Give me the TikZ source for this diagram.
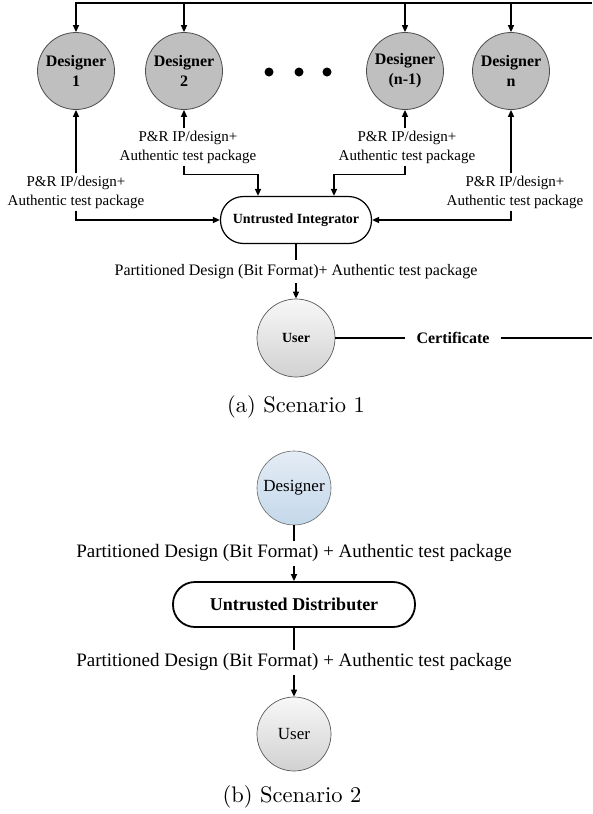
\documentclass[tikz,border=0pt]{standalone}
\usepackage{fontspec}
\newfontfamily\tm{Liberation Serif}
\newfontfamily\lmten{lmroman10-regular}[Extension=.otf]
\usetikzlibrary{arrows.meta}
\definecolor{bluetop}{RGB}{228,236,245}
\definecolor{bluebot}{RGB}{196,216,234}
\begin{document}
\begin{tikzpicture}[x=1pt,y=-1pt,
  conn/.style={line width=1.5pt},
  arr/.style={conn,-{Triangle[length=7pt,width=6pt]}},
  dcirc/.style={circle,draw=black!70,line width=0.8pt,fill=black!25,minimum size=77pt,inner sep=0pt,align=center,font=\tm\bfseries\fontsize{16}{20}\selectfont},
  lab/.style={align=center,font=\tm\fontsize{15}{19}\selectfont,inner sep=2pt},
  ucirc/.style={circle,draw=black!65,line width=0.7pt,top color=black!3,bottom color=black!18,inner sep=0pt},
  onlab/.style={fill=white,inner xsep=2pt,inner ysep=4pt},
  caption/.style={font=\lmten\fontsize{22.5}{27}\selectfont}
]
\useasboundingbox (0,0) rectangle (592,814);

% ---------- Scenario 1 ----------
\node[dcirc] (d1) at (76,71) {Designer\\1};
\node[dcirc] (d2) at (184,71) {Designer\\2};
\node[dcirc] (dn1) at (405,71) {Designer\\(n-1)};
\node[dcirc] (dn) at (511,71) {Designer\\n};
\fill (269,72) circle (4.5pt);
\fill (299,72) circle (4.5pt);
\fill (327,72) circle (4.5pt);

\coordinate (tl) at (76,3);
\coordinate (tr) at (592,3);
\draw[arr] (tr) -- (tl) -- (d1.north);
\draw[arr] (d2.north |- tl) -- (d2.north);
\draw[arr] (dn1.north |- tl) -- (dn1.north);
\draw[arr] (dn.north |- tl) -- (dn.north);

\node[lab] (l1) at (76,192) {P\&R IP/design+\\Authentic test package};
\node[lab] (l2) at (188,147) {P\&R IP/design+\\Authentic test package};
\node[lab] (l3) at (407,147) {P\&R IP/design+\\Authentic test package};
\node[lab] (l4) at (515,192) {P\&R IP/design+\\Authentic test package};

\node[draw,line width=1.2pt,rounded corners=23pt,minimum width=151pt,minimum height=47pt,
      font=\tm\bfseries\fontsize{14}{16}\selectfont] (int) at (296,220) {Untrusted Integrator};

\draw[arr] (l1.north) -- (d1.south);
\draw[arr] (l1.south) |- (int.west);
\draw[arr] (l2.north -| d2) -- (d2.south);
\draw[arr] (l2.south -| d2) -- ++(0,9) -| ([xshift=-38pt]int.north);
\draw[arr] (l3.north -| dn1) -- (dn1.south);
\draw[arr] (l3.south -| dn1) -- ++(0,9) -| ([xshift=38pt]int.north);
\draw[arr] (l4.north -| dn) -- (dn.south);
\draw[arr] (l4.south -| dn) |- (int.east);

\node[ucirc,minimum size=78pt,font=\tm\bfseries\fontsize{14}{16}\selectfont] (u1) at (296,338) {User};
\draw[arr] (int) -- node[onlab,font=\tm\fontsize{16}{19}\selectfont] {Partitioned Design (Bit Format)+ Authentic test package} (u1);

\node[fill=white,inner xsep=11pt,font=\tm\bfseries\fontsize{16}{19}\selectfont] (cert) at (453,338) {Certificate};
\coordinate (cr) at (592,338);
\draw[conn] (u1) -- (cert) (cert) -- (cr);

\node[caption] (capa) at (296,407) {(a) Scenario 1};

% ---------- Scenario 2 ----------
\node[circle,draw=black!60,line width=0.6pt,minimum size=74pt,inner sep=0pt,top color=bluetop,bottom color=bluebot,
      font=\tm\fontsize{17}{20}\selectfont] (des) at (294,488) {Designer};
\node[draw,line width=1.8pt,rounded corners=22pt,minimum width=242pt,minimum height=45pt,
      font=\tm\bfseries\fontsize{18}{20}\selectfont] (dist) at (294,604.5) {Untrusted Distributer};
\node[ucirc,minimum size=74pt,font=\tm\fontsize{17}{20}\selectfont] (u2) at (294,734) {User};

\draw[arr] (des) -- node[onlab,font=\tm\fontsize{19}{22}\selectfont] {Partitioned Design (Bit Format) + Authentic test package} (dist);
\draw[arr] (dist) -- node[onlab,font=\tm\fontsize{19}{22}\selectfont] {Partitioned Design (Bit Format) + Authentic test package} (u2);

\node[caption] (capb) at (292,797) {(b) Scenario 2};
\end{tikzpicture}
\end{document}
